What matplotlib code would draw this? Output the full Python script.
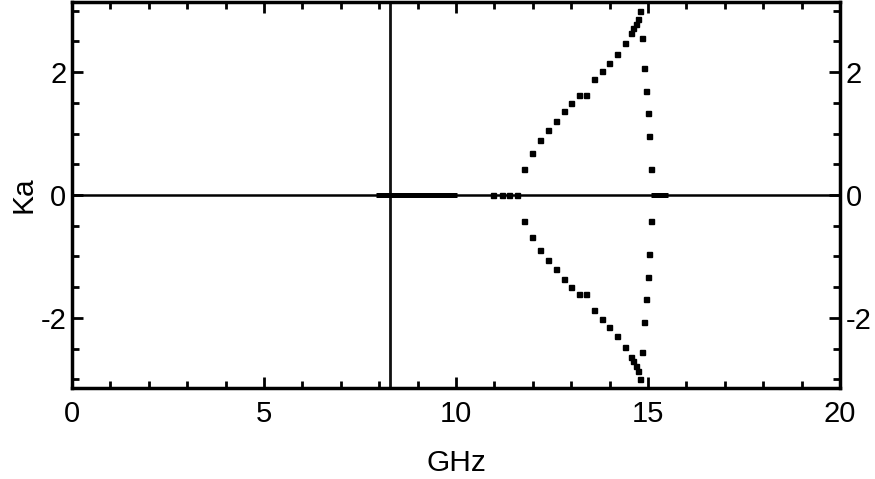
import matplotlib.pyplot as plt, numpy as np, matplotlib
from matplotlib.ticker import MultipleLocator

matplotlib.rcParams['font.family'] = ['Liberation Sans', 'DejaVu Sans']
matplotlib.rcParams['axes.unicode_minus'] = False

# left branch (upper half, mirrored below)
f_left = [11.78, 11.99, 12.19, 12.39, 12.60, 12.80, 13.00, 13.19, 13.39, 13.59,
          13.79, 13.99, 14.18, 14.39, 14.56, 14.62, 14.68, 14.73, 14.79]
ka_left = [0.43, 0.69, 0.89, 1.06, 1.21, 1.36, 1.49, 1.62, 1.62, 1.88,
           2.02, 2.15, 2.30, 2.47, 2.63, 2.71, 2.79, 2.87, 2.99]
# right branch
f_right = [14.84, 14.89, 14.95, 15.00, 15.03, 15.08]
ka_right = [2.56, 2.07, 1.69, 1.33, 0.96, 0.43]
# isolated points on Ka = 0
f_zero = [10.97, 11.19, 11.39, 11.58]
# dense runs of points on Ka = 0 (start, end)
band_start = [7.92, 15.09]
band_end = [10.03, 15.53]
# vertical band of points
f_vert = 8.28

fig = plt.figure(figsize=(8.75, 4.79), dpi=100)
ax = fig.add_axes([0.0823, 0.19, 0.8777, 0.806])

ax.axhline(0, color='black', lw=1.8, zorder=2)
ax.axvline(f_vert, color='#111111', lw=2.0, zorder=2)
ax.hlines([0] * len(band_start), band_start, band_end, color='black', lw=3.6, zorder=3)

ms = 3.6
ax.plot(f_left, ka_left, 's', color='black', ms=ms, zorder=4)
ax.plot(f_left, -np.array(ka_left), 's', color='black', ms=ms, zorder=4)
ax.plot(f_right, ka_right, 's', color='black', ms=ms, zorder=4)
ax.plot(f_right, -np.array(ka_right), 's', color='black', ms=ms, zorder=4)
ax.plot(f_zero, [0] * len(f_zero), 's', color='black', ms=ms, zorder=4)

ax.set_xlim(0, 20)
ax.set_ylim(-np.pi, np.pi)
ax.xaxis.set_major_locator(MultipleLocator(5))
ax.xaxis.set_minor_locator(MultipleLocator(1))
ax.yaxis.set_major_locator(MultipleLocator(2))
ax.yaxis.set_minor_locator(MultipleLocator(0.5))
ax.tick_params(which='both', direction='in', top=True, right=True,
               labelright=True, width=2, labelsize=21)
ax.tick_params(axis='x', pad=9)
ax.tick_params(axis='y', pad=4)
ax.tick_params(which='major', length=8)
ax.tick_params(which='minor', length=5)
for s in ax.spines.values():
    s.set_linewidth(2.5)

ax.set_xlabel('GHz', fontsize=21.5, labelpad=15)
ax.set_ylabel('Ka', fontsize=21.5, labelpad=2)

fig.savefig('out.png', dpi=100)
